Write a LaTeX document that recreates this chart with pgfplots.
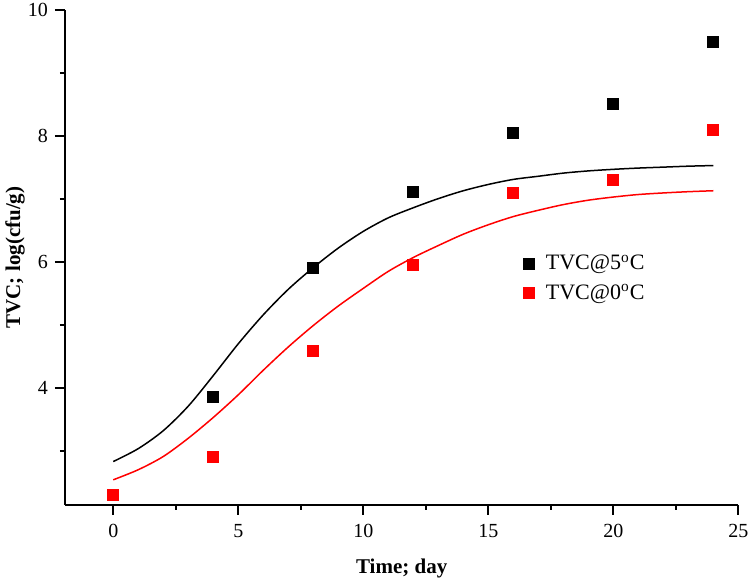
\documentclass[border=0pt]{standalone}
\usepackage{fontspec}
\setmainfont{Liberation Serif}
\usepackage{pgfplots}
\pgfplotsset{compat=1.18}
\begin{document}
\begin{tikzpicture}[font=\fontsize{10}{12}\selectfont]
\path[use as bounding box] (-32.5pt,-38.5pt) rectangle (342.5pt,252.5pt);
\begin{axis}[
  at={(0,0)}, anchor=south west,
  scale only axis,
  width=336.7pt, height=247.5pt,
  xmin=-1.93, xmax=25, ymin=2.14, ymax=10,
  axis lines*=left,
  axis line style={line width=1pt},
  tick style={line width=1pt, black},
  tick align=outside,
  major tick length=5pt, minor tick length=2.5pt,
  xtick={0,5,10,15,20,25},
  minor xtick={2.5,7.5,12.5,17.5,22.5},
  ytick={4,6,8,10},
  minor ytick={3,5,7,9},
  /pgf/number format/assume math mode=true,
  xticklabel style={yshift=-1pt},
  xlabel={\fontsize{10.5}{12}\selectfont\bfseries Time; day},
  ylabel={\fontsize{10.5}{12}\selectfont\bfseries TVC; log(cfu/g)},
  x label style={at={(axis description cs:0.5,-0.1273)}, anchor=center},
  y label style={at={(axis description cs:-0.0743,0.5)}, anchor=center},
  legend style={at={(0.6705,0.4576)}, anchor=west, draw=none, fill=none,
    font=\fontsize{11}{13}\selectfont, row sep=1.5pt,
    /tikz/every odd column/.append style={column sep=4pt}},
  legend cell align=left,
  clip=false,
]
% fitted curves
\addplot[black, line width=0.75pt, smooth, forget plot] coordinates {
(0,2.83) (1,3.035) (2,3.32) (3,3.71) (4,4.195) (5,4.70) (6,5.16) (7,5.565)
(8,5.91) (9,6.22) (10,6.485) (11,6.70) (12,6.86) (13,7.005) (14,7.13) (15,7.23)
(16,7.31) (17,7.36) (18,7.41) (19,7.445) (20,7.47) (21,7.49) (22,7.505) (23,7.52) (24,7.53)};
\addplot[red, line width=0.75pt, smooth, forget plot] coordinates {
(0,2.54) (1,2.70) (2,2.91) (3,3.20) (4,3.53) (5,3.89) (6,4.28) (7,4.65)
(8,4.99) (9,5.30) (10,5.58) (11,5.85) (12,6.07) (13,6.26) (14,6.44) (15,6.59)
(16,6.72) (17,6.82) (18,6.91) (19,6.98) (20,7.03) (21,7.07) (22,7.095) (23,7.115) (24,7.13)};
% data
\addplot[only marks, mark=square*, mark size=2.75pt, black, mark options={fill=black}] coordinates {
(4,3.86) (8,5.90) (12,7.11) (16,8.05) (20,8.51) (24,9.50)};
\addlegendentry{TVC@5\textsuperscript{o}C}
\addplot[only marks, mark=square*, mark size=2.75pt, red, mark options={fill=red}] coordinates {
(0,2.30) (4,2.91) (8,4.59) (12,5.96) (16,7.09) (20,7.30) (24,8.10)};
\addlegendentry{TVC@0\textsuperscript{o}C}
\end{axis}
\end{tikzpicture}
\end{document}
